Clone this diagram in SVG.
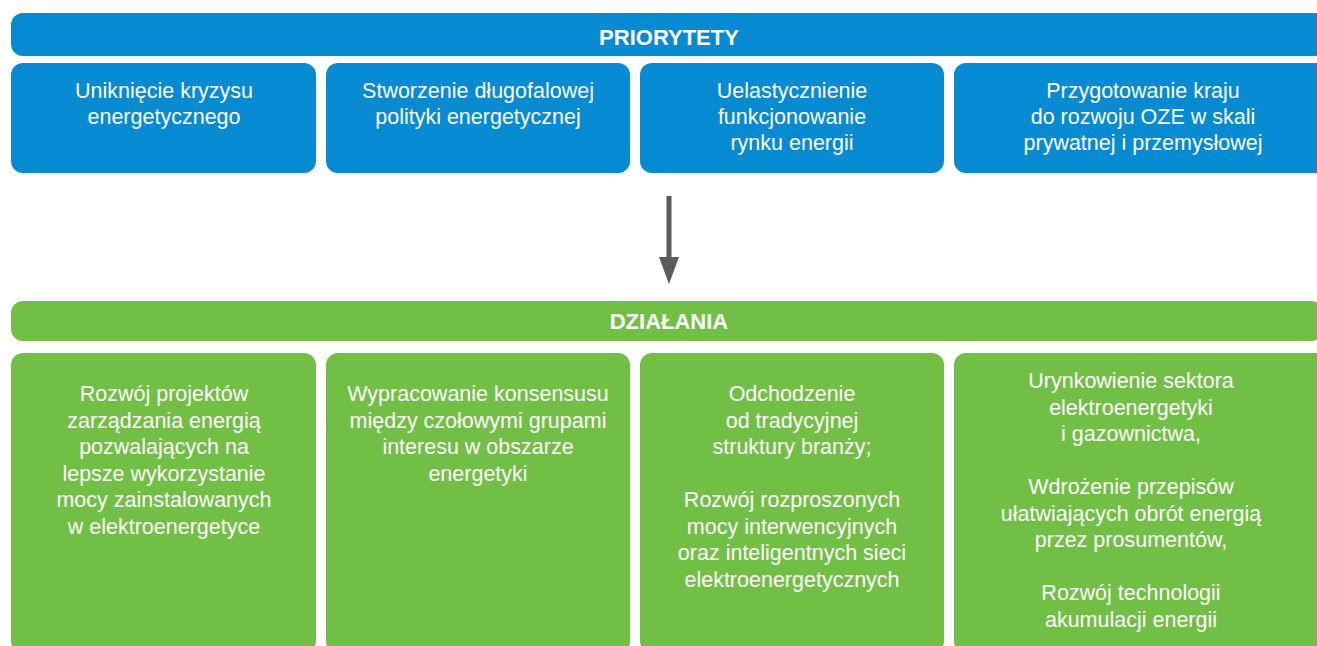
<svg xmlns="http://www.w3.org/2000/svg" width="1317" height="646" viewBox="0 0 1317 646">
<style>
.blue{fill:#068bd2}
.green{fill:#72bf46}
text{font-family:"Liberation Sans",Arial,sans-serif;fill:#ffffff;text-anchor:middle}
.t{font-size:21.5px}
.h{font-size:22px;font-weight:bold}
</style>
<rect width="1317" height="646" fill="#ffffff"/>
<g id="priorytety">
<rect class="blue" x="11" y="13" width="1316" height="43" rx="12"/>
<text class="h" x="669" y="45">PRIORYTETY</text>
</g>
<g id="p1">
<rect class="blue" x="11" y="63" width="305" height="110" rx="12"/>
<text class="t"><tspan x="164" y="98">Uniknięcie kryzysu</tspan><tspan x="164" y="124">energetycznego</tspan></text>
</g>
<g id="p2">
<rect class="blue" x="326" y="63" width="304" height="110" rx="12"/>
<text class="t"><tspan x="478" y="98">Stworzenie długofalowej</tspan><tspan x="478" y="124">polityki energetycznej</tspan></text>
</g>
<g id="p3">
<rect class="blue" x="640" y="63" width="304" height="110" rx="12"/>
<text class="t"><tspan x="792" y="98">Uelastycznienie</tspan><tspan x="792" y="124">funkcjonowanie</tspan><tspan x="792" y="150">rynku energii</tspan></text>
</g>
<g id="p4">
<rect class="blue" x="954" y="63" width="376" height="110" rx="12"/>
<text class="t"><tspan x="1143" y="98">Przygotowanie kraju</tspan><tspan x="1143" y="124">do rozwoju OZE w skali</tspan><tspan x="1143" y="150">prywatnej i przemysłowej</tspan></text>
</g>
<g id="connectors">
<rect x="666.5" y="196" width="5" height="62" fill="#5b5b5f"/>
<polygon points="659,257 679,257 669,284" fill="#5b5b5f"/>
</g>
<g id="dzialania">
<rect class="green" x="11" y="301" width="1312" height="40" rx="12"/>
<text class="h" x="669" y="329">DZIAŁANIA</text>
</g>
<g id="d1">
<rect class="green" x="11" y="353" width="305" height="300" rx="12"/>
<text class="t"><tspan x="164" y="401">Rozwój projektów</tspan><tspan x="164" y="427.5">zarządzania energią</tspan><tspan x="164" y="454">pozwalających na</tspan><tspan x="164" y="480.5">lepsze wykorzystanie</tspan><tspan x="164" y="507">mocy zainstalowanych</tspan><tspan x="164" y="533.5">w elektroenergetyce</tspan></text>
</g>
<g id="d2">
<rect class="green" x="326" y="353" width="304" height="300" rx="12"/>
<text class="t"><tspan x="478" y="401">Wypracowanie konsensusu</tspan><tspan x="478" y="427.5">między czołowymi grupami</tspan><tspan x="478" y="454">interesu w obszarze</tspan><tspan x="478" y="480.5">energetyki</tspan></text>
</g>
<g id="d3">
<rect class="green" x="640" y="353" width="304" height="300" rx="12"/>
<text class="t"><tspan x="792" y="401">Odchodzenie</tspan><tspan x="792" y="427.5">od tradycyjnej</tspan><tspan x="792" y="454">struktury branży;</tspan><tspan x="792" y="507">Rozwój rozproszonych</tspan><tspan x="792" y="533.5">mocy interwencyjnych</tspan><tspan x="792" y="560">oraz inteligentnych sieci</tspan><tspan x="792" y="586.5">elektroenergetycznych</tspan></text>
</g>
<g id="d4">
<rect class="green" x="954" y="353" width="376" height="300" rx="12"/>
<text class="t"><tspan x="1131" y="388">Urynkowienie sektora</tspan><tspan x="1131" y="414.5">elektroenergetyki</tspan><tspan x="1131" y="441">i gazownictwa,</tspan><tspan x="1131" y="494">Wdrożenie przepisów</tspan><tspan x="1131" y="520.5">ułatwiających obrót energią</tspan><tspan x="1131" y="547">przez prosumentów,</tspan><tspan x="1131" y="600">Rozwój technologii</tspan><tspan x="1131" y="626.5">akumulacji energii</tspan></text>
</g>
</svg>
